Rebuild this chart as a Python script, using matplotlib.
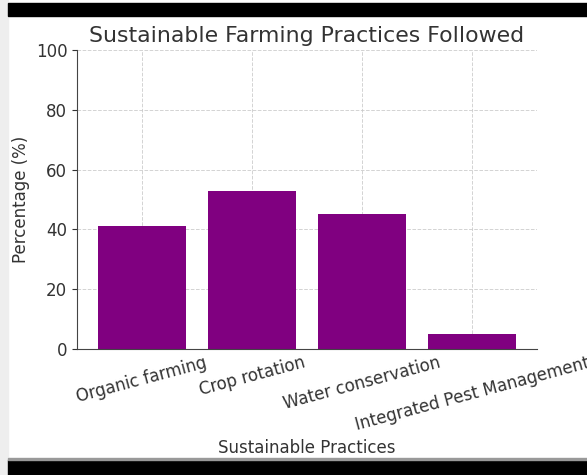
import matplotlib.pyplot as plt
from matplotlib.patches import Rectangle

practices = ["Organic farming", "Crop rotation", "Water conservation",
             "Integrated Pest Management"]
percentages = [41, 53, 45, 5]

fig = plt.figure(figsize=(5.87, 4.75), dpi=100)
ax = fig.add_axes([0.1312, 0.2653, 0.7836, 0.6295])

ax.bar(practices, percentages, color="purple", zorder=2)
ax.set_ylim(0, 100)
ax.set_title("Sustainable Farming Practices Followed", fontsize=15.8, color="#333333")
ax.set_xlabel("Sustainable Practices", fontsize=12, color="#333333")
ax.set_ylabel("Percentage (%)", fontsize=12, color="#333333")
ax.tick_params(axis="x", labelrotation=15, labelsize=12, length=0, colors="#333333")
ax.tick_params(axis="y", labelsize=12, colors="#333333")
ax.grid(True, linestyle="--", color="#c8c8c8", linewidth=0.7, alpha=0.8, zorder=3)
ax.spines["top"].set_visible(False)
ax.spines["right"].set_visible(False)
for s in ("left", "bottom"):
    ax.spines[s].set_color("#444444")

# screenshot frame: light strip on left, black bands top and bottom
fig.patches.append(Rectangle((0, 0), 0.0136, 1, transform=fig.transFigure,
                             color="#eeeeee", zorder=10))
fig.patches.append(Rectangle((0.0136, 0.966), 0.9864, 0.028, transform=fig.transFigure,
                             color="black", zorder=10))
fig.patches.append(Rectangle((0.0136, 0.0), 0.9864, 0.0316, transform=fig.transFigure,
                             color="black", zorder=10))
fig.patches.append(Rectangle((0.0136, 0.0316), 0.9864, 0.004, transform=fig.transFigure,
                             color="#999999", zorder=10))

fig.savefig("out.png", dpi=100)
